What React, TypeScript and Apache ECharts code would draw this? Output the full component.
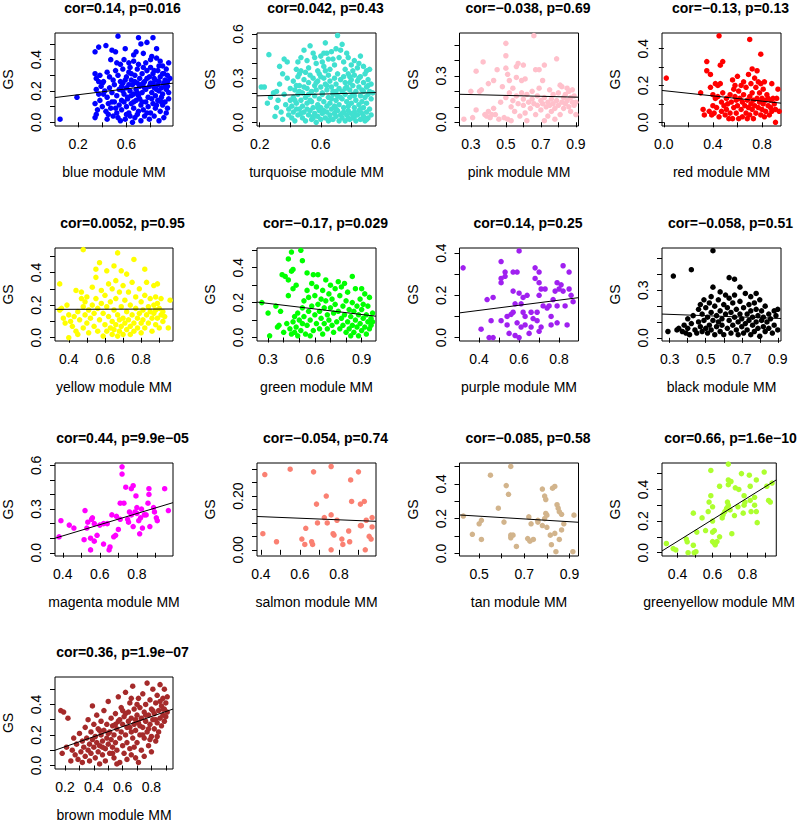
import React, { useEffect, useRef } from 'react';
import * as echarts from 'echarts';

// ---------- data: [module membership (MM), gene significance (GS)] ----------
const bluePts = [[.05,.02],[.19,.16],[.53,.55],[.70,.54],[.82,.54],[.34,.45],[.37,.48],[.43,.49],[.48,.46],[.51,.45],[.59,.47],[.72,.50],[.77,.51],[.66,.43],[.74,.44],[.81,.42],[.47,.40],[.58,.40],[.66,.39],[.80,.40],[.85,.41],[.95,.38],[.55,.37],[.62,.38],[.70,.37],[.76,.38],[.88,.39],[.90,.36],
[.34,.31],[.35,.28],[.38,.30],[.41,.26],[.44,.32],[.46,.29],[.49,.27],[.51,.33],[.53,.30],[.55,.26],[.57,.34],[.60,.29],[.62,.32],[.64,.27],[.67,.30],[.69,.34],[.71,.28],[.73,.31],[.75,.26],[.77,.33],[.79,.29],[.82,.31],[.84,.27],[.86,.33],[.88,.29],[.90,.31],[.92,.27],[.94,.30],[.63,.35],[.80,.35],[.87,.36],[.93,.34],
[.35,.21],[.37,.18],[.39,.23],[.42,.20],[.44,.16],[.46,.22],[.48,.19],[.50,.24],[.52,.17],[.54,.21],[.56,.23],[.58,.18],[.60,.22],[.61,.16],[.63,.20],[.65,.24],[.66,.18],[.68,.21],[.70,.17],[.71,.23],[.73,.19],[.74,.25],[.76,.21],[.78,.16],[.79,.23],[.81,.19],[.83,.22],[.84,.17],[.86,.24],[.87,.20],[.89,.22],[.90,.18],[.91,.25],[.93,.21],[.94,.23],[.95,.19],[.40,.25],[.57,.25],[.69,.25],[.82,.25],
[.34,.12],[.36,.08],[.38,.14],[.40,.10],[.43,.07],[.45,.12],[.47,.09],[.50,.13],[.52,.06],[.54,.11],[.56,.08],[.58,.13],[.60,.10],[.62,.06],[.64,.12],[.66,.09],[.68,.14],[.70,.07],[.72,.11],[.74,.08],[.76,.13],[.78,.10],[.80,.06],[.82,.12],[.84,.09],[.86,.14],[.88,.07],[.90,.11],[.92,.13],[.94,.09],[.71,.15],[.61,.15],
[.34,.03],[.35,.05],[.44,.02],[.49,.04],[.53,.03],[.55,.01],[.59,.02],[.63,.04],[.65,.00],[.67,.03],[.72,.01],[.75,.04],[.79,.02],[.83,.04],[.87,.01],[.91,.03],
[.57,.20],[.59,.27],[.62,.24],[.64,.17],[.67,.26],[.69,.19],[.72,.24],[.75,.22],[.77,.28],[.80,.25],[.83,.28],[.85,.21],[.87,.26],[.89,.16],[.92,.23],[.94,.26],[.60,.05],[.66,.13],[.69,.05],[.73,.13],[.77,.06],[.81,.15],[.85,.11],[.89,.13],[.93,.06],[.56,.14],[.48,.13],[.41,.18],[.37,.26],[.45,.05],[.51,.09],[.64,.31],[.74,.35],[.83,.33],[.91,.31],[.95,.15],[.96,.28],[.52,.38],[.68,.45],[.85,.47]];

const turquoisePts = [[.21,.24],[.23,.24],[.26,.46],[.27,.17],[.25,.13],[.29,.20],[.30,.04],[.31,.10],[.32,.15],[.33,.38],[.33,.26],[.34,.07],[.35,.02],[.36,.43],[.36,.19],[.37,.12],[.38,.41],[.38,.30],[.39,.05],[.40,.23],[.40,.15],
[.44,.36],[.47,.44],[.49,.49],[.51,.42],[.53,.52],[.55,.47],[.57,.40],[.60,.45],[.62,.38],[.63,.54],[.65,.43],[.67,.48],[.69,.39],[.71,.59],[.72,.44],[.73,.49],[.75,.41],[.76,.36],[.78,.44],[.80,.39],[.82,.42],[.84,.37],[.86,.45],[.88,.38],[.90,.35],[.58,.35],[.46,.33],[.70,.50],[.74,.53],[.66,.36],
[.42,.28],[.43,.22],[.45,.31],[.46,.25],[.48,.20],[.49,.29],[.50,.34],[.51,.23],[.52,.27],[.53,.32],[.54,.21],[.55,.30],[.56,.25],[.57,.22],[.58,.28],[.59,.33],[.60,.24],[.61,.20],[.62,.30],[.63,.26],[.64,.22],[.65,.32],[.66,.28],[.67,.24],[.68,.21],[.69,.30],[.70,.26],[.71,.33],[.72,.23],[.73,.29],[.74,.21],[.75,.31],[.76,.27],[.77,.24],[.78,.33],[.79,.22],[.80,.29],[.81,.25],[.82,.32],[.83,.21],[.84,.28],[.85,.24],[.86,.31],[.87,.22],[.88,.27],[.89,.33],[.90,.24],[.91,.29],[.92,.21],[.93,.26],[.47,.35],[.63,.35],[.44,.25],
[.41,.11],[.42,.17],[.44,.13],[.45,.19],[.47,.15],[.48,.11],[.50,.17],[.51,.13],[.52,.19],[.54,.14],[.55,.10],[.56,.18],[.58,.12],[.59,.16],[.60,.10],[.61,.19],[.62,.14],[.64,.11],[.65,.17],[.66,.13],[.68,.19],[.69,.11],[.70,.15],[.71,.18],[.72,.12],[.74,.16],[.75,.10],[.76,.19],[.77,.14],[.78,.11],[.79,.17],[.80,.13],[.81,.19],[.82,.10],[.83,.15],[.85,.12],[.86,.18],[.87,.14],[.88,.10],[.89,.17],[.90,.13],[.91,.19],[.92,.09],[.93,.16],
[.41,.03],[.42,.07],[.43,.01],[.45,.05],[.46,.09],[.48,.03],[.49,.07],[.50,.01],[.52,.05],[.53,.08],[.54,.02],[.56,.06],[.57,.00],[.58,.04],[.59,.08],[.60,.02],[.61,.06],[.63,.03],[.64,.07],[.65,.01],[.66,.05],[.67,.09],[.68,.02],[.69,.06],[.70,.04],[.71,.08],[.72,.01],[.73,.05],[.74,.03],[.75,.07],[.76,.01],[.77,.05],[.78,.08],[.79,.02],[.80,.06],[.81,.03],[.82,.07],[.83,.01],[.84,.05],[.85,.08],[.86,.02],[.87,.06],[.88,.04],[.89,.01],[.90,.07],[.91,.03],[.44,.09],[.55,.04],
[.45,.41],[.52,.37],[.56,.44],[.61,.41],[.64,.47],[.68,.43],[.77,.47],[.81,.35],[.85,.40],[.92,.36],[.43,.15],[.46,.21],[.49,.24],[.53,.15],[.57,.27],[.60,.31],[.64,.25],[.67,.16],[.70,.21],[.73,.17],[.76,.23],[.79,.27],[.82,.18],[.85,.30],[.88,.21],[.91,.25],[.94,.20],[.47,.06],[.51,.09],[.55,.03],[.58,.10],[.62,.08],[.66,.02],[.70,.09],[.74,.06],[.78,.03],[.82,.04],[.86,.09],[.90,.02],[.93,.05],[.62,.47],[.79,.31],[.35,.33],[.31,.21],[.39,.09]];

const pinkPts = [[.26,.02],[.30,.20],[.31,.03],[.33,.08],[.33,.33],[.35,.20],[.36,.21],[.37,.39],[.38,.05],[.39,.04],[.40,.25],[.40,.07],[.41,.03],[.42,.05],[.43,.27],[.43,.09],[.44,.05],[.45,.34],[.46,.02],[.47,.13],[.48,.23],[.49,.03],[.50,.51],[.50,.43],[.50,.35],[.50,.16],[.51,.31],[.51,.02],[.52,.27],[.52,.19],[.53,.10],[.53,.01],[.54,.22],[.54,.14],[.55,.07],[.56,.36],[.56,.29],[.56,.17],[.57,.38],[.57,.12],[.58,.04],[.59,.27],[.59,.19],[.60,.37],[.60,.15],[.60,.11],[.61,.28],[.61,.06],[.62,.18],[.62,.01],[.63,.13],[.64,.09],[.65,.20],[.65,.15],[.66,.56],[.66,.12],[.67,.34],[.67,.05],[.68,.17],[.68,.11],[.69,.34],[.69,.22],[.70,.14],[.70,.08],[.71,.27],[.71,.12],[.72,.37],[.72,.16],[.72,.01],[.73,.10],[.74,.13],[.74,.04],[.75,.21],[.75,.11],[.76,.15],[.76,.07],[.77,.18],[.77,.12],[.78,.02],[.78,.09],[.79,.41],[.79,.14],[.80,.19],[.80,.11],[.81,.24],[.81,.05],[.82,.23],[.82,.13],[.83,.16],[.83,.09],[.84,.12],[.84,.18],[.85,.22],[.85,.14],[.86,.10],[.86,.20],[.87,.16],[.87,.07],[.88,.13],[.88,.21],[.89,.11],[.89,.17],[.90,.05],[.90,.13]];

const redPts = [[.02,.24],[.30,.16],[.32,.07],[.33,.04],[.35,.33],[.35,.28],[.37,.06],[.38,.26],[.38,.19],[.39,.04],[.40,.15],[.40,.09],[.41,.05],[.42,.21],[.42,.13],[.43,.08],[.44,.20],[.44,.14],[.45,.47],[.45,.03],[.46,.31],[.46,.21],[.47,.11],[.47,.06],[.48,.33],[.48,.16],[.49,.09],[.50,.04],[.51,.13],[.51,.07],[.52,.10],[.53,.02],[.54,.15],[.54,.05],[.55,.11],[.56,.23],[.56,.02],[.57,.18],[.57,.08],[.58,.14],[.58,.20],[.59,.05],[.59,.12],[.60,.25],[.60,.09],[.61,.17],[.61,.02],[.62,.13],[.63,.07],[.63,.20],[.64,.11],[.64,.03],[.65,.22],[.65,.15],[.66,.09],[.67,.05],[.67,.19],[.68,.12],[.68,.02],[.69,.26],[.69,.08],[.70,.45],[.70,.14],[.70,.04],[.71,.21],[.71,.10],[.72,.29],[.72,.16],[.72,.07],[.73,.12],[.73,.02],[.74,.24],[.74,.09],[.75,.19],[.75,.05],[.76,.28],[.76,.13],[.77,.22],[.77,.08],[.78,.16],[.78,.11],[.79,.37],[.79,.21],[.79,.04],[.80,.13],[.80,.07],[.81,.18],[.81,.10],[.82,.22],[.82,.03],[.83,.12],[.83,.06],[.84,.15],[.85,.09],[.85,.13],[.86,.04],[.87,.12],[.87,.08],[.88,.21],[.88,.06],[.89,.13],[.90,.10],[.91,.00],[.91,.07],[.92,.13],[.93,.18],[.94,.06]];

const yellowPts = [[.35,.33],[.35,.17],[.36,.18],[.37,.12],[.38,.09],[.39,.20],[.40,.00],[.40,.14],[.41,.10],[.42,.07],[.43,.13],[.44,.29],[.44,.04],[.45,.02],[.45,.16],[.46,.11],[.47,.28],[.47,.24],[.48,.54],[.48,.19],[.48,.06],[.49,.22],[.49,.14],[.50,.25],[.50,.09],[.51,.17],[.51,.03],[.52,.12],[.53,.20],[.53,.31],[.54,.07],[.54,.15],[.55,.42],[.55,.37],[.55,.24],[.56,.18],[.56,.04],[.57,.46],[.57,.11],[.58,.29],[.58,.21],[.59,.15],[.59,.01],[.60,.26],[.60,.08],[.61,.41],[.61,.19],[.61,.04],[.62,.33],[.62,.13],[.63,.22],[.63,.06],[.64,.30],[.64,.10],[.64,.02],[.65,.44],[.65,.17],[.65,.05],[.66,.35],[.66,.24],[.66,.08],[.67,.52],[.67,.14],[.67,.01],[.68,.28],[.68,.11],[.68,.04],[.69,.41],[.69,.19],[.69,.07],[.70,.32],[.70,.12],[.70,.02],[.71,.23],[.71,.09],[.72,.39],[.72,.16],[.72,.05],[.73,.28],[.73,.11],[.74,.20],[.74,.07],[.74,.02],[.75,.34],[.75,.14],[.76,.48],[.76,.09],[.76,.04],[.77,.25],[.77,.18],[.78,.12],[.78,.06],[.79,.30],[.79,.15],[.80,.22],[.80,.09],[.80,.03],[.81,.17],[.81,.11],[.82,.42],[.82,.26],[.82,.06],[.83,.34],[.83,.14],[.84,.19],[.84,.09],[.85,.24],[.85,.16],[.86,.12],[.86,.04],[.87,.32],[.87,.20],[.87,.15],[.88,.25],[.88,.17],[.88,.08],[.89,.33],[.89,.21],[.89,.12],[.90,.18],[.90,.06],[.91,.24],[.91,.14],[.92,.16],[.92,.10],[.93,.13],[.95,.06],[.96,.23]];

const greenPts = [[.26,.20],[.30,.14],[.31,.01],[.35,.18],[.36,.06],[.37,.07],[.38,.15],[.39,.36],[.40,.03],[.41,.35],[.42,.08],[.43,.45],[.43,.24],[.43,.33],[.44,.05],[.45,.49],[.45,.38],[.45,.02],[.46,.39],[.46,.28],[.46,.09],[.47,.12],[.47,.03],[.48,.30],[.48,.06],[.49,.01],[.49,.14],[.50,.10],[.51,.50],[.51,.04],[.52,.44],[.52,.17],[.52,.08],[.53,.21],[.53,.12],[.54,.02],[.55,.37],[.55,.27],[.55,.07],[.56,.23],[.56,.15],[.57,.10],[.57,.01],[.58,.18],[.58,.31],[.59,.36],[.59,.04],[.60,.24],[.60,.13],[.61,.29],[.61,.08],[.62,.36],[.62,.19],[.63,.15],[.63,.05],[.64,.22],[.64,.11],[.65,.27],[.65,.02],[.66,.17],[.66,.08],[.67,.33],[.67,.21],[.68,.13],[.68,.05],[.69,.25],[.69,.10],[.70,.30],[.70,.17],[.71,.07],[.71,.22],[.72,.14],[.72,.03],[.73,.28],[.73,.19],[.74,.09],[.75,.32],[.75,.15],[.76,.05],[.76,.24],[.77,.11],[.77,.29],[.78,.18],[.78,.07],[.79,.31],[.79,.13],[.80,.03],[.80,.21],[.81,.09],[.81,.26],[.82,.16],[.82,.05],[.83,.12],[.83,.01],[.84,.35],[.84,.20],[.84,.07],[.85,.15],[.85,.03],[.86,.28],[.86,.10],[.87,.18],[.87,.06],[.88,.13],[.88,.01],[.89,.22],[.89,.08],[.90,.16],[.90,.04],[.90,.28],[.91,.11],[.91,.19],[.92,.06],[.92,.25],[.93,.13],[.93,.02],[.94,.09],[.94,.18],[.95,.05],[.95,.23],[.96,.11],[.96,.07],[.97,.14],[.97,.09]];

const purplePts = [[.32,.33],[.41,.04],[.44,.18],[.45,.00],[.47,.00],[.46,.08],[.47,.19],[.51,.26],[.51,.28],[.51,.36],[.53,.31],[.51,.08],[.53,.29],[.54,.10],[.54,.06],[.55,.02],[.56,.11],[.57,.31],[.57,.22],[.57,.12],[.58,.16],[.58,.01],[.59,.07],[.59,.31],[.60,.41],[.60,.21],[.60,.00],[.61,.05],[.61,.16],[.62,.19],[.62,.12],[.63,.10],[.63,.06],[.64,.20],[.65,.02],[.66,.05],[.66,.12],[.67,.09],[.68,.33],[.68,.28],[.69,.12],[.69,.08],[.70,.31],[.70,.26],[.70,.20],[.71,.23],[.70,.03],[.71,.05],[.72,.15],[.73,.23],[.74,.14],[.75,.15],[.76,.10],[.77,.18],[.78,.22],[.79,.07],[.79,.26],[.80,.23],[.79,.15],[.81,.25],[.82,.22],[.82,.34],[.83,.15],[.84,.06],[.85,.23],[.86,.20],[.87,.17],[.85,.31],[.76,.06]];

const blackPts = [[.29,.04],[.32,.39],[.34,.05],[.35,.06],[.37,.04],[.38,.08],[.39,.03],[.40,.06],[.40,.12],[.41,.02],[.42,.43],[.42,.09],[.43,.14],[.44,.05],[.45,.03],[.46,.10],[.46,.18],[.47,.21],[.47,.07],[.48,.15],[.48,.04],[.49,.24],[.49,.11],[.50,.06],[.50,.19],[.51,.13],[.51,.03],[.52,.22],[.52,.08],[.53,.26],[.53,.16],[.53,.05],[.54,.55],[.54,.32],[.54,.11],[.55,.20],[.55,.02],[.56,.14],[.56,.07],[.57,.24],[.57,.10],[.58,.29],[.58,.04],[.58,.17],[.59,.12],[.59,.08],[.60,.21],[.60,.02],[.61,.15],[.61,.27],[.62,.06],[.62,.19],[.63,.38],[.63,.11],[.63,.25],[.64,.03],[.64,.16],[.65,.22],[.65,.08],[.66,.37],[.66,.13],[.66,.27],[.67,.05],[.67,.18],[.68,.10],[.68,.02],[.69,.32],[.69,.15],[.69,.23],[.70,.07],[.70,.12],[.71,.03],[.71,.19],[.72,.28],[.72,.09],[.73,.05],[.73,.15],[.74,.21],[.74,.11],[.75,.02],[.75,.17],[.75,.26],[.76,.08],[.76,.13],[.77,.04],[.77,.22],[.78,.10],[.78,.18],[.78,.28],[.79,.06],[.79,.14],[.80,.01],[.80,.24],[.81,.11],[.81,.17],[.82,.07],[.82,.13],[.83,.04],[.83,.20],[.84,.10],[.85,.15],[.85,.06],[.86,.12],[.87,.03],[.88,.08],[.88,.17],[.89,.14],[.90,.05],[.90,.18]];

const magentaPts = [[.38,.11],[.39,.22],[.435,.19],[.46,.17],[.515,.09],[.52,.29],[.53,.17],[.535,.21],[.55,.10],[.55,.02],[.555,.23],[.56,.24],[.57,.08],[.57,.20],[.585,.12],[.62,.06],[.62,.20],[.64,.20],[.65,.02],[.655,.04],[.665,.26],[.675,.11],[.685,.12],[.70,.16],[.71,.34],[.71,.23],[.72,.59],[.72,.54],[.73,.34],[.74,.45],[.75,.23],[.76,.28],[.77,.44],[.78,.46],[.78,.18],[.79,.28],[.795,.39],[.80,.31],[.81,.22],[.815,.13],[.82,.24],[.83,.17],[.84,.26],[.85,.26],[.86,.34],[.865,.44],[.865,.40],[.87,.18],[.89,.31],[.895,.28],[.905,.24],[.91,.22],[.95,.44],[.97,.29],[.755,.21],[.80,.27],[.825,.30],[.77,.26],[.69,.25],[.60,.19]];

const salmonPts = [[.42,.28],[.55,.30],[.67,.29],[.76,.31],[.90,.29],[.86,.26],[.735,.20],[.685,.17],[.865,.18],[.91,.17],[.93,.18],[.41,.06],[.48,.03],[.63,.08],[.61,.04],[.625,.02],[.66,.03],[.665,.02],[.69,.10],[.725,.12],[.74,.10],[.76,.13],[.76,.00],[.77,.06],[.775,.055],[.79,.11],[.815,.04],[.82,.02],[.85,.07],[.855,.03],[.91,.09],[.915,.09],[.935,.00],[.94,.11],[.955,.05],[.965,.04],[.97,.12],[.97,.085]];

const tanPts = [[.43,.215],[.47,.11],[.50,.17],[.51,.19],[.51,.08],[.55,.45],[.585,.26],[.61,.18],[.62,.39],[.63,.34],[.64,.50],[.64,.105],[.64,.09],[.65,.105],[.665,.04],[.715,.085],[.72,.21],[.725,.07],[.73,.17],[.74,.08],[.76,.18],[.78,.37],[.78,.16],[.79,.20],[.79,.33],[.795,.31],[.795,.23],[.80,.15],[.815,.105],[.82,.05],[.825,.375],[.835,.385],[.835,.115],[.845,.28],[.85,.26],[.84,.01],[.855,.24],[.855,.08],[.865,.135],[.865,.225],[.875,.17],[.915,.01],[.92,.22],[.80,.22],[.76,.19]];

const greenyellowPts = [[.336,.058],[.375,.026],[.39,.017],[.45,.086],[.455,.069],[.46,.00],[.49,.047],[.49,.25],[.495,.00],[.505,.006],[.51,.13],[.54,.22],[.56,.14],[.575,.26],[.58,.32],[.59,.52],[.59,.36],[.60,.13],[.60,.29],[.60,.20],[.60,.07],[.61,.06],[.61,.14],[.615,.05],[.625,.07],[.64,.42],[.64,.10],[.655,.22],[.67,.26],[.68,.28],[.685,.32],[.69,.56],[.69,.43],[.69,.46],[.69,.30],[.705,.45],[.71,.12],[.725,.235],[.73,.41],[.75,.40],[.765,.50],[.775,.25],[.78,.30],[.78,.36],[.785,.32],[.81,.49],[.815,.42],[.815,.33],[.82,.26],[.84,.30],[.84,.35],[.85,.46],[.85,.26],[.855,.19],[.895,.51],[.91,.42],[.92,.33],[.93,.32],[.94,.44],[.70,.27],[.66,.24],[.745,.29]];

const brownPts = [[.17,.36],[.19,.35],[.18,.08],[.21,.12],[.22,.31],[.24,.03],[.25,.10],[.26,.18],[.27,.07],[.28,.14],[.29,.04],[.30,.21],[.31,.09],[.32,.16],[.32,.02],[.33,.12],[.34,.25],[.34,.06],[.35,.18],[.36,.10],[.36,.30],[.37,.14],[.37,.03],[.38,.22],[.38,.08],[.39,.17],[.39,.39],[.40,.12],[.40,.27],[.41,.05],[.41,.19],[.42,.15],[.42,.33],[.43,.09],[.43,.24],[.44,.01],[.44,.13],[.45,.20],[.45,.29],[.46,.07],[.46,.16],[.47,.36],[.47,.23],[.48,.11],[.48,.03],[.49,.18],[.49,.27],[.50,.14],[.50,.42],[.51,.08],[.51,.22],[.52,.31],[.52,.17],[.53,.12],[.53,.26],[.54,.05],[.54,.20],[.55,.34],[.55,.15],[.56,.24],[.56,.10],[.57,.29],[.57,.45],[.58,.18],[.58,.02],[.59,.22],[.59,.38],[.60,.13],[.60,.27],[.61,.32],[.61,.08],[.62,.20],[.62,.48],[.63,.25],[.63,.15],[.64,.35],[.64,.29],[.65,.11],[.65,.41],[.66,.22],[.66,.31],[.67,.18],[.67,.52],[.68,.27],[.68,.37],[.69,.05],[.69,.23],[.70,.33],[.70,.15],[.71,.44],[.71,.28],[.72,.20],[.72,.38],[.73,.31],[.73,.10],[.74,.25],[.74,.47],[.75,.35],[.75,.18],[.76,.29],[.76,.40],[.77,.22],[.77,.54],[.78,.33],[.78,.13],[.79,.27],[.79,.43],[.80,.37],[.80,.19],[.81,.30],[.81,.50],[.82,.24],[.82,.34],[.83,.41],[.83,.16],[.84,.28],[.84,.46],[.85,.36],[.85,.22],[.86,.31],[.86,.53],[.87,.39],[.87,.26],[.88,.33],[.88,.44],[.89,.29],[.89,.37],[.90,.41],[.90,.32],[.91,.35],[.56,.01],[.63,.04],[.66,.07],[.71,.02],[.75,.06],[.80,.09],
[.58,.30],[.62,.34],[.65,.25],[.69,.30],[.72,.26],[.76,.33],[.78,.24],[.81,.36],[.83,.30],[.86,.42],[.88,.37],[.84,.19],[.79,.17],[.74,.20],[.70,.40],[.66,.44],[.60,.36],[.55,.27],[.50,.21],[.46,.12],[.53,.08],[.44,.23],[.68,.12],[.91,.45],[.89,.50]];

// ---------- panel descriptors ----------
const moduleNames = ['blue','turquoise','pink','red','yellow','green','purple','black','magenta','salmon','tan','greenyellow','brown'];
const moduleColors = ['#0000FF','#40E0D0','#FFC0CB','#FF0000','#FFFF00','#00FF00','#A020F0','#000000','#FF00FF','#FA8072','#D2B48C','#ADFF2F','#A52A2A'];
const modulePoints = [bluePts,turquoisePts,pinkPts,redPts,yellowPts,greenPts,purplePts,blackPts,magentaPts,salmonPts,tanPts,greenyellowPts,brownPts];
const panelTitles = ['cor=0.14, p=0.016','cor=0.042, p=0.43','cor=\u22120.038, p=0.69','cor=\u22120.13, p=0.13','cor=0.0052, p=0.95','cor=\u22120.17, p=0.029','cor=0.14, p=0.25','cor=\u22120.058, p=0.51','cor=0.44, p=9.9e\u221205','cor=\u22120.054, p=0.74','cor=\u22120.085, p=0.58','cor=0.66, p=1.6e\u221210','cor=0.36, p=1.9e\u221207'];
const xRanges = [[.008,.986],[.182,.962],[.235,.915],[-.015,.955],[.324,.976],[.229,.992],[.302,.897],[.257,.918],[.358,.995],[.38,.99],[.413,.94],[.311,.964],[.13,.95]];
const yRanges = [[-.0235,.57],[-.025,.607],[-.024,.577],[-.02,.485],[-.02,.55],[-.02,.513],[-.016,.424],[-.02,.567],[-.022,.616],[-.023,.323],[-.015,.52],[-.021,.567],[-.023,.58]];
const xTicks = [[.2,.4,.6,.8],[.2,.4,.6,.8],[.3,.4,.5,.6,.7,.8,.9],[0,.2,.4,.6,.8],[.4,.5,.6,.7,.8,.9],[.3,.4,.5,.6,.7,.8,.9],[.4,.5,.6,.7,.8],[.3,.4,.5,.6,.7,.8,.9],[.4,.5,.6,.7,.8,.9],[.4,.5,.6,.7,.8,.9],[.5,.6,.7,.8,.9],[.4,.5,.6,.7,.8,.9],[.2,.3,.4,.5,.6,.7,.8,.9]];
const xLabels = [[.2,.6],[.2,.6],[.3,.5,.7,.9],[0,.4,.8],[.4,.6,.8],[.3,.6,.9],[.4,.6,.8],[.3,.5,.7,.9],[.4,.6,.8],[.4,.6,.8],[.5,.7,.9],[.4,.6,.8],[.2,.4,.6,.8]];
const yTicks = [[0,.1,.2,.3,.4,.5],[0,.1,.2,.3,.4,.5,.6],[0,.1,.2,.3,.4,.5],[0,.1,.2,.3,.4],[0,.1,.2,.3,.4,.5],[0,.1,.2,.3,.4,.5],[0,.1,.2,.3,.4],[0,.1,.2,.3,.4,.5],[0,.1,.2,.3,.4,.5,.6],[0,.05,.1,.15,.2,.25,.3],[0,.1,.2,.3,.4,.5],[0,.1,.2,.3,.4,.5],[0,.1,.2,.3,.4,.5]];
const yLabels = [[0,.2,.4],[0,.3,.6],[0,.3],[0,.2,.4],[0,.2,.4],[0,.2,.4],[0,.2,.4],[0,.3],[0,.3,.6],[0,.2],[0,.2,.4],[0,.2,.4],[0,.2,.4]];
const yDecimals = [1,1,1,1,1,1,1,1,1,2,1,1,1];
// fitted line: GS at the left and right edge of the plot region
const fitEnds = [[.158,.25],[.18,.202],[.181,.162],[.173,.104],[.174,.176],[.203,.122],[.117,.189],[.15,.122],[.10,.344],[.124,.106],[.221,.179],[.011,.46],[.10,.37]];

// ---------- layout (pixels) ----------
const colLeft = [54, 257, 459.5, 662];
const rowTop = [33, 248, 463, 677];
const PW = 119;
const PH = 93;
const FONT = '"Liberation Sans", Arial, Helvetica, sans-serif';

function buildOption() {
  const grid: any[] = [];
  const xAxis: any[] = [];
  const yAxis: any[] = [];
  const series: any[] = [];
  const graphic: any[] = [];
  moduleNames.forEach((name, i) => {
    const r = Math.floor(i / 4);
    const c = i % 4;
    const left = colLeft[c];
    const top = rowTop[r];
    grid.push({ left, top, width: PW, height: PH, show: true, borderColor: '#000', borderWidth: 1, backgroundColor: 'transparent' });
    xAxis.push({
      type: 'value', gridIndex: i, min: xRanges[i][0], max: xRanges[i][1],
      splitLine: { show: false }, axisLine: { show: false },
      axisTick: { show: true, length: 5, customValues: xTicks[i], lineStyle: { color: '#000' } },
      axisLabel: { customValues: xLabels[i], formatter: (v: number) => v.toFixed(1), color: '#000', fontSize: 14, fontFamily: FONT, margin: 11 },
      name: name + ' module MM', nameLocation: 'middle', nameGap: 39,
      nameTextStyle: { color: '#000', fontSize: 14, fontFamily: FONT },
    });
    const dec = yDecimals[i];
    yAxis.push({
      type: 'value', gridIndex: i, min: yRanges[i][0], max: yRanges[i][1],
      splitLine: { show: false }, axisLine: { show: false },
      axisTick: { show: true, length: 5, customValues: yTicks[i], lineStyle: { color: '#000' } },
      axisLabel: { customValues: yLabels[i], formatter: (v: number) => v.toFixed(dec), rotate: 90, color: '#000', fontSize: 14, fontFamily: FONT, margin: 12 },
      name: 'GS', nameLocation: 'middle', nameGap: 40, nameRotate: 90,
      nameTextStyle: { color: '#000', fontSize: 14, fontFamily: FONT },
    });
    series.push({
      type: 'scatter', xAxisIndex: i, yAxisIndex: i, data: modulePoints[i],
      symbol: 'circle', symbolSize: 5.5, itemStyle: { color: moduleColors[i], opacity: 1 }, silent: true,
    });
    series.push({
      type: 'line', xAxisIndex: i, yAxisIndex: i,
      data: [[xRanges[i][0], fitEnds[i][0]], [xRanges[i][1], fitEnds[i][1]]],
      symbol: 'none', lineStyle: { color: '#000', width: 1 }, silent: true, z: 3,
    });
    graphic.push({
      type: 'text', x: left + PW / 2 + 9, y: top - 25, silent: true,
      style: { text: panelTitles[i], font: 'bold 14px ' + FONT, fill: '#000', textAlign: 'center', textVerticalAlign: 'middle', align: 'center', verticalAlign: 'middle' },
    });
  });
  return { animation: false, backgroundColor: '#fff', grid, xAxis, yAxis, series, graphic };
}

export default function App() {
  const ref = useRef<HTMLDivElement>(null);
  useEffect(() => {
    if (!ref.current) return;
    const chart = echarts.init(ref.current, undefined, { renderer: 'svg' });
    chart.setOption(buildOption() as any);
    return () => chart.dispose();
  }, []);
  return <div ref={ref} style={{ position: 'absolute', left: 0, top: 0, width: 797, height: 823 }} />;
}
